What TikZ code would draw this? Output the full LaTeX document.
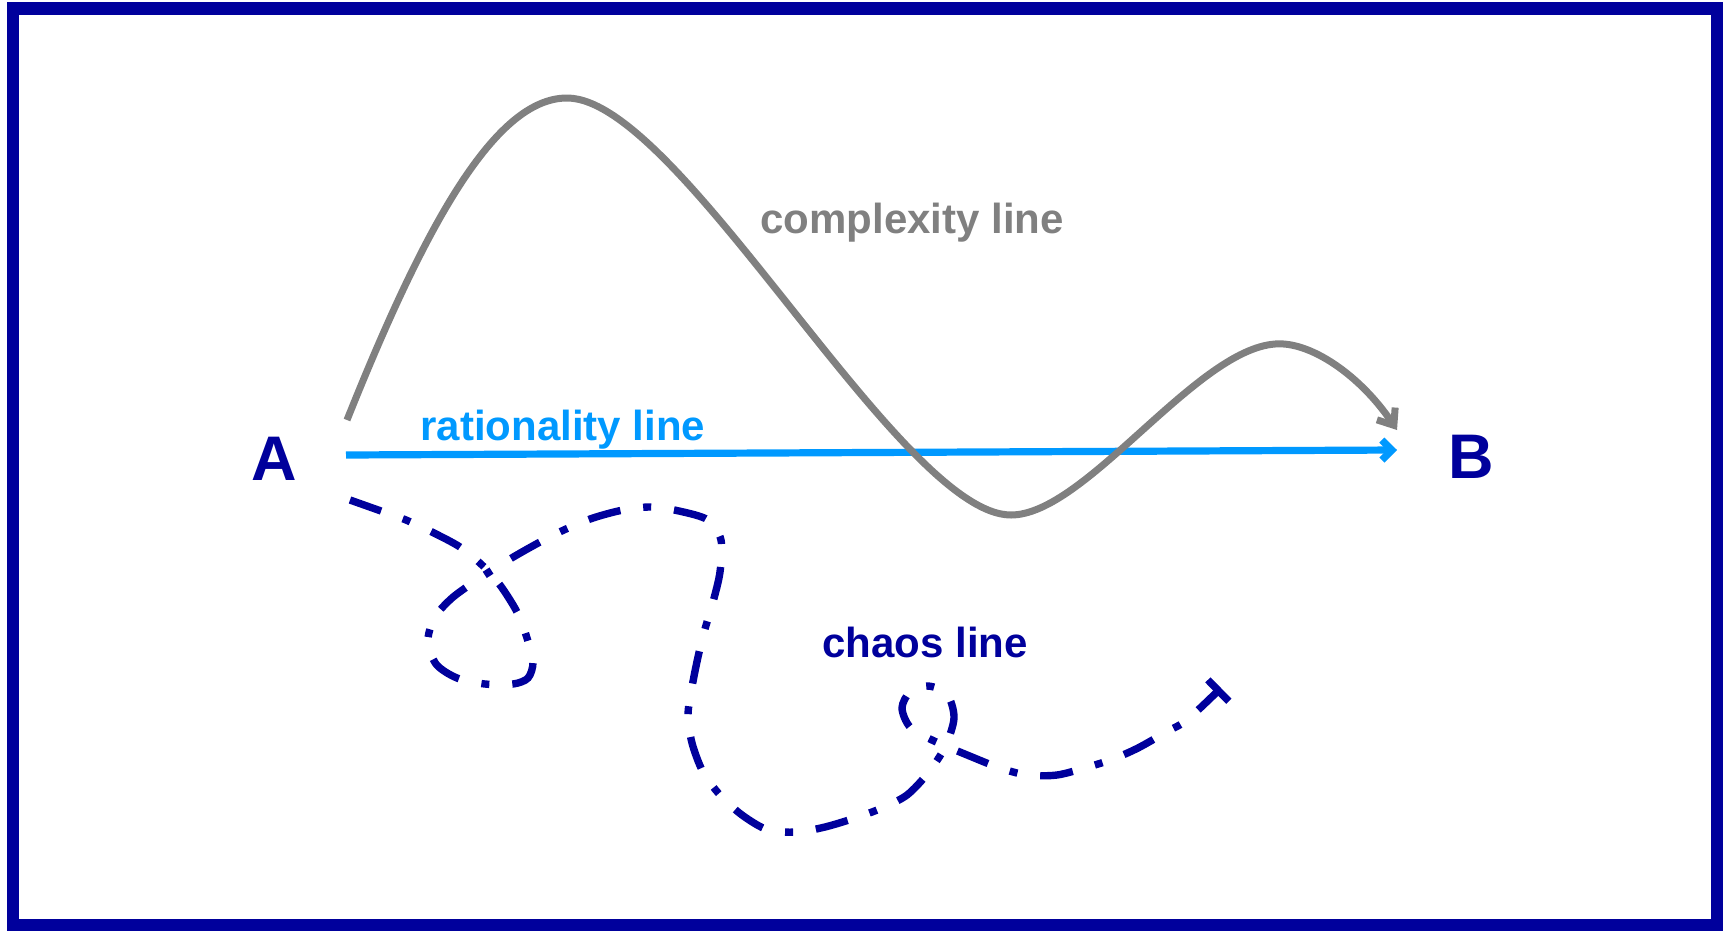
\documentclass[tikz,border=0pt]{standalone}
\usepackage{fontspec}
\setmainfont{Liberation Sans}
\usetikzlibrary{arrows.meta}
\definecolor{navy}{RGB}{0,0,156}
\definecolor{cgray}{RGB}{128,128,128}
\definecolor{rblue}{RGB}{0,153,255}
\begin{document}
\begin{tikzpicture}[x=0.5pt,y=-0.5pt,
  lbl/.style={font=\fontsize{21}{25}\selectfont\bfseries, inner sep=0pt},
  endpt/.style={font=\fontsize{31.5}{36}\selectfont\bfseries, text=navy, inner sep=0pt},
  cpxline/.style={draw=cgray, line width=3.5pt, line join=round, -{Straight Barb[length=7pt,width=11pt]}},
  ratline/.style={draw=rblue, line width=3.6pt, -{Straight Barb[length=5pt,width=10pt]}},
  chaosline/.style={draw=navy, line width=3.7pt, dash pattern=on 16.5pt off 11.5pt on 4pt off 11.5pt, -{Bar[width=15pt]}},
  frame/.style={draw=navy, line width=6.25pt}
]
\useasboundingbox (0,0) rectangle (1724,932);
\draw[frame] (13,8.5) rectangle (1717,925);

\node[endpt, anchor=base] (A) at (274,480) {A};
\node[endpt, anchor=base] (B) at (1471,478) {B};
\node[lbl, text=rblue, anchor=base west] (rl) at (420,440) {rationality line};
\node[lbl, text=cgray, anchor=base west] (cl) at (760,233) {complexity line};
\node[lbl, text=navy, anchor=base west] (chl) at (822,657) {chaos line};

\coordinate (rs) at (346,455);
\coordinate (re) at (1397,450);
\draw[ratline] (rs) -- (re);

\coordinate (c0) at (347,420);
\coordinate (c1) at (567,98);
\coordinate (c2) at (1011,515);
\coordinate (c3) at (1275,344);
\coordinate (c4) at (1397,430);
\draw[cpxline] (c0) .. controls (425,225) and (495,98) .. (c1)
  .. controls (680,98) and (900,515) .. (c2)
  .. controls (1085,515) and (1195,350) .. (c3)
  .. controls (1310,341) and (1360,375) .. (c4);

\draw[chaosline] plot[smooth, tension=0.5] coordinates {
  (350,500) (381,511) (406,520) (432,532) (460,547) (482,565) (500,585)
  (517,612) (527,638) (533,662) (528,678) (513,684) (485,684) (457,678)
  (436,664) (428,640) (435,617) (452,598) (477,580) (510,559) (540,542)
  (566,529) (593,518) (623,510) (651,507) (679,511) (708,520) (721,540)
  (720,572) (713,602) (705,629) (698,657) (692,687) (688,715) (692,743)
  (703,772) (720,795) (742,815) (768,830) (797,832) (825,827) (855,818)
  (882,808) (907,795) (928,773) (945,747) (954,718) (947,694) (928,686)
  (910,692) (902,708) (910,727) (932,740) (972,757) (1000,768) (1027,775)
  (1057,775) (1088,767) (1113,759) (1138,748) (1168,731) (1187,720) (1221,688)};
\end{tikzpicture}
\end{document}
